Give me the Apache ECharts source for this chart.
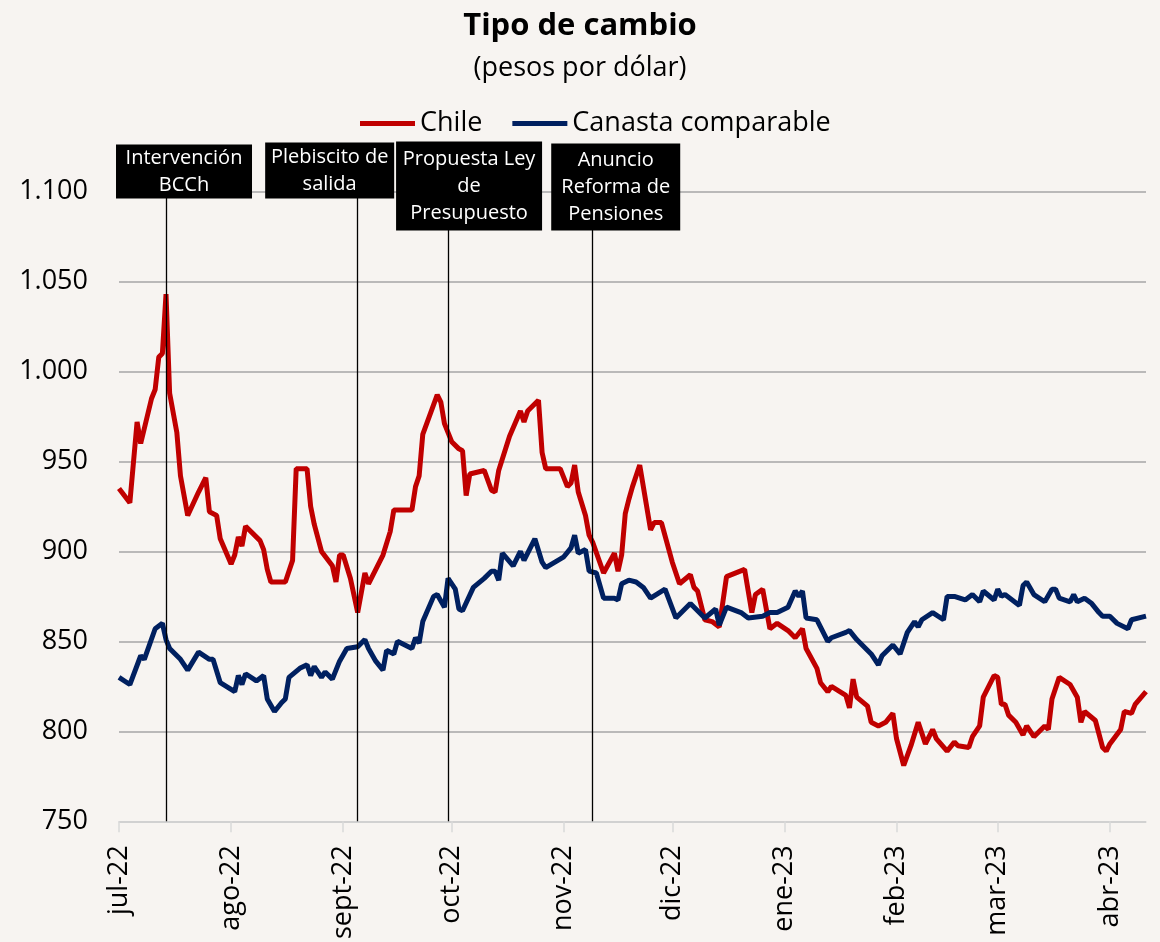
<!DOCTYPE html>
<html>
<head>
<meta charset="utf-8">
<script src="https://cdn.jsdelivr.net/npm/echarts@6/dist/echarts.min.js"></script>
<style>
  html, body { margin: 0; padding: 0; background: #f7f4f1; }
  #chart { width: 1160px; height: 942px; }
</style>
</head>
<body>
<div id="chart"></div>
<script>
// tipo de cambio, pesos por dolar
let axisStart = "2022-07-01";
let axisEnd = "2023-04-11";

let tickDates = ["2022-07-01", "2022-08-01", "2022-09-01", "2022-10-01", "2022-11-01",
  "2022-12-01", "2023-01-01", "2023-02-01", "2023-03-01", "2023-04-01"];
let monthLabels = ["jul-22", "ago-22", "sept-22", "oct-22", "nov-22",
  "dic-22", "ene-23", "feb-23", "mar-23", "abr-23"];

let chileDates = [
  "2022-07-01", "2022-07-04", "2022-07-06", "2022-07-07", "2022-07-10", "2022-07-11", "2022-07-12",
  "2022-07-13", "2022-07-14", "2022-07-15", "2022-07-17", "2022-07-18", "2022-07-20", "2022-07-23",
  "2022-07-25", "2022-07-26", "2022-07-28", "2022-07-29", "2022-08-01", "2022-08-02", "2022-08-03",
  "2022-08-04", "2022-08-05", "2022-08-09", "2022-08-10", "2022-08-11", "2022-08-12", "2022-08-16",
  "2022-08-18", "2022-08-19", "2022-08-22", "2022-08-23", "2022-08-24", "2022-08-26", "2022-08-29",
  "2022-08-30", "2022-08-31", "2022-09-01", "2022-09-03", "2022-09-05", "2022-09-07", "2022-09-08",
  "2022-09-12", "2022-09-14", "2022-09-15", "2022-09-20", "2022-09-21", "2022-09-22", "2022-09-23",
  "2022-09-27", "2022-09-28", "2022-09-29", "2022-10-01", "2022-10-03", "2022-10-04", "2022-10-05",
  "2022-10-06", "2022-10-10", "2022-10-12", "2022-10-13", "2022-10-14", "2022-10-17", "2022-10-20",
  "2022-10-21", "2022-10-22", "2022-10-25", "2022-10-26", "2022-10-27", "2022-10-31", "2022-11-02",
  "2022-11-03", "2022-11-04", "2022-11-05", "2022-11-07", "2022-11-08", "2022-11-09", "2022-11-12",
  "2022-11-15", "2022-11-16", "2022-11-17", "2022-11-18", "2022-11-19", "2022-11-20", "2022-11-22",
  "2022-11-25", "2022-11-26", "2022-11-28", "2022-12-01", "2022-12-03", "2022-12-06", "2022-12-07",
  "2022-12-08", "2022-12-10", "2022-12-12", "2022-12-14", "2022-12-16", "2022-12-21", "2022-12-23",
  "2022-12-24", "2022-12-26", "2022-12-28", "2022-12-30", "2023-01-02", "2023-01-04", "2023-01-06",
  "2023-01-07", "2023-01-10", "2023-01-11", "2023-01-13", "2023-01-14", "2023-01-18", "2023-01-19",
  "2023-01-20", "2023-01-21", "2023-01-24", "2023-01-25", "2023-01-27", "2023-01-29", "2023-01-31",
  "2023-02-01", "2023-02-03", "2023-02-05", "2023-02-07", "2023-02-09", "2023-02-11", "2023-02-12",
  "2023-02-15", "2023-02-17", "2023-02-18", "2023-02-21", "2023-02-22", "2023-02-24", "2023-02-25",
  "2023-02-28", "2023-03-01", "2023-03-02", "2023-03-03", "2023-03-04", "2023-03-06", "2023-03-08",
  "2023-03-09", "2023-03-11", "2023-03-14", "2023-03-15", "2023-03-16", "2023-03-18", "2023-03-21",
  "2023-03-23", "2023-03-24", "2023-03-25", "2023-03-28", "2023-03-30", "2023-03-31", "2023-04-01",
  "2023-04-04", "2023-04-05", "2023-04-07", "2023-04-08", "2023-04-11"
];
let chileValues = [
  935, 927, 972, 960, 985, 990, 1008,
  1010, 1043, 988, 966, 942, 920, 933,
  941, 922, 920, 907, 893, 898, 908,
  903, 914, 906, 901, 890, 883, 883,
  895, 946, 946, 925, 915, 900, 892,
  883, 898, 898, 885, 866, 888, 882,
  898, 911, 923, 923, 936, 942, 965,
  987, 983, 971, 961, 957, 956, 931,
  943, 945, 934, 933, 945, 964, 978,
  972, 978, 984, 955, 946, 946, 936,
  938, 948, 933, 920, 909, 905, 888,
  899, 889, 898, 921, 929, 936, 948,
  912, 916, 916, 894, 882, 887, 880,
  878, 862, 861, 858, 886, 890, 866,
  876, 879, 857, 860, 856, 852, 857,
  846, 835, 827, 822, 825, 820, 813,
  829, 819, 814, 805, 803, 805, 810,
  796, 781, 792, 805, 793, 801, 796,
  789, 794, 792, 791, 797, 803, 819,
  831, 830, 815, 815, 809, 805, 798,
  803, 797, 803, 801, 818, 830, 826,
  819, 805, 811, 806, 791, 789, 793,
  801, 811, 810, 815, 822
];

let canastaDates = [
  "2022-07-01", "2022-07-04", "2022-07-07", "2022-07-08", "2022-07-11", "2022-07-13", "2022-07-14",
  "2022-07-15", "2022-07-18", "2022-07-20", "2022-07-23", "2022-07-26", "2022-07-27", "2022-07-29",
  "2022-08-02", "2022-08-03", "2022-08-04", "2022-08-05", "2022-08-08", "2022-08-10", "2022-08-11",
  "2022-08-13", "2022-08-15", "2022-08-16", "2022-08-17", "2022-08-20", "2022-08-22", "2022-08-23",
  "2022-08-24", "2022-08-26", "2022-08-27", "2022-08-29", "2022-08-31", "2022-09-02", "2022-09-05",
  "2022-09-07", "2022-09-08", "2022-09-10", "2022-09-12", "2022-09-13", "2022-09-15", "2022-09-16",
  "2022-09-20", "2022-09-21", "2022-09-22", "2022-09-23", "2022-09-26", "2022-09-27", "2022-09-29",
  "2022-09-30", "2022-10-02", "2022-10-03", "2022-10-04", "2022-10-07", "2022-10-10", "2022-10-12",
  "2022-10-13", "2022-10-14", "2022-10-15", "2022-10-18", "2022-10-20", "2022-10-21", "2022-10-24",
  "2022-10-26", "2022-10-27", "2022-11-01", "2022-11-03", "2022-11-04", "2022-11-05", "2022-11-07",
  "2022-11-08", "2022-11-10", "2022-11-12", "2022-11-15", "2022-11-16", "2022-11-17", "2022-11-19",
  "2022-11-21", "2022-11-23", "2022-11-25", "2022-11-29", "2022-12-02", "2022-12-06", "2022-12-08",
  "2022-12-10", "2022-12-13", "2022-12-14", "2022-12-16", "2022-12-20", "2022-12-22", "2022-12-26",
  "2022-12-28", "2022-12-30", "2023-01-02", "2023-01-04", "2023-01-05", "2023-01-06", "2023-01-07",
  "2023-01-10", "2023-01-13", "2023-01-14", "2023-01-18", "2023-01-19", "2023-01-21", "2023-01-25",
  "2023-01-27", "2023-01-28", "2023-01-31", "2023-02-02", "2023-02-04", "2023-02-06", "2023-02-07",
  "2023-02-08", "2023-02-11", "2023-02-14", "2023-02-15", "2023-02-17", "2023-02-20", "2023-02-22",
  "2023-02-24", "2023-02-25", "2023-02-28", "2023-03-01", "2023-03-02", "2023-03-03", "2023-03-07",
  "2023-03-08", "2023-03-09", "2023-03-11", "2023-03-14", "2023-03-16", "2023-03-17", "2023-03-18",
  "2023-03-21", "2023-03-22", "2023-03-23", "2023-03-25", "2023-03-27", "2023-03-29", "2023-03-30",
  "2023-04-01", "2023-04-03", "2023-04-06", "2023-04-07", "2023-04-11"
];
let canastaValues = [
  830, 826, 842, 840, 857, 860, 851,
  846, 840, 834, 844, 840, 840, 827,
  822, 831, 826, 832, 828, 831, 818,
  811, 816, 818, 830, 835, 837, 831,
  836, 830, 833, 829, 839, 846, 847,
  851, 846, 839, 834, 845, 843, 850,
  846, 852, 849, 861, 875, 876, 869,
  885, 879, 868, 867, 880, 885, 889,
  889, 884, 899, 892, 900, 895, 907,
  894, 891, 897, 902, 909, 899, 901,
  889, 888, 874, 874, 873, 882, 884,
  883, 880, 874, 879, 863, 871, 867,
  863, 868, 859, 869, 866, 863, 864,
  866, 866, 869, 878, 875, 878, 863,
  862, 850, 852, 855, 856, 851, 843,
  837, 842, 848, 843, 855, 861, 858,
  862, 866, 862, 875, 875, 873, 876,
  872, 878, 873, 879, 875, 876, 870,
  881, 883, 876, 872, 879, 879, 874,
  872, 876, 872, 874, 871, 866, 864,
  864, 860, 857, 862, 864
];

let eventDates = ["2022-07-14", "2022-09-05", "2022-09-30", "2022-11-09"];
let eventLabels = ["Intervención\nBCCh", "Plebiscito de\nsalida", "Propuesta Ley\nde\nPresupuesto", "Anuncio\nReforma de\nPensiones"];

function toTime(s) {
  let p = s.split("-");
  return new Date(+p[0], +p[1] - 1, +p[2]).getTime();
}

let font = "Open Sans";
let tickTimes = tickDates.map(toTime);

// event box layout
let boxStyle = [
  { width: 124, padding: [0, 6], offset: [18, 12] },
  { width: 117, padding: [1, 6], offset: [-28, 12] },
  { width: 134, padding: [4, 6], offset: [21, 44] },
  { width: 117, padding: [3, 6], offset: [23, 44] }
];

let dom = document.getElementById("chart");
let myChart = echarts.init(dom);

let option = {
  backgroundColor: "#f7f4f1",
  animation: false,
  textStyle: { fontFamily: font, color: "#000" },
  title: {
    text: "Tipo de cambio",
    subtext: "(pesos por dólar)",
    left: "center",
    top: 2,
    itemGap: 6,
    textStyle: { fontFamily: font, fontSize: 31, fontWeight: "bold", color: "#000", lineHeight: 38 },
    subtextStyle: { fontFamily: font, fontSize: 27, color: "#000", lineHeight: 34 }
  },
  legend: {
    left: 355,
    top: 105,
    icon: "rect",
    itemWidth: 55,
    itemHeight: 5,
    itemGap: 30,
    textStyle: { fontFamily: font, fontSize: 27, color: "#000" },
    data: ["Chile", "Canasta comparable"]
  },
  grid: {
    left: 119,
    right: 14,
    top: 191.6,
    bottom: 119
  },
  xAxis: {
    type: "value",
    min: toTime(axisStart),
    max: toTime(axisEnd),
    axisLine: { lineStyle: { color: "#d9d9d9", width: 1.5 } },
    axisTick: { show: true, customValues: tickTimes, length: 11, lineStyle: { color: "#d9d9d9", width: 1.5 } },
    axisLabel: {
      customValues: tickTimes,
      rotate: 90,
      margin: 24,
      fontSize: 27,
      color: "#000",
      fontFamily: font,
      formatter: function(v) {
        let i = tickTimes.indexOf(v);
        return i >= 0 ? monthLabels[i] : "";
      }
    },
    splitLine: { show: false }
  },
  yAxis: {
    type: "value",
    min: 750,
    max: 1100,
    interval: 50,
    axisLine: { show: false },
    axisTick: { show: false },
    splitLine: { lineStyle: { color: "#a6a6a6", width: 1.5 } },
    axisLabel: {
      fontSize: 27,
      margin: 31,
      color: "#000",
      fontFamily: font,
      formatter: function(v) {
        if (v >= 1000) {
          return Math.floor(v / 1000) + "." + String(v % 1000).padStart(3, "0");
        }
        return String(v);
      }
    }
  },
  series: [
    {
      name: "Chile",
      type: "line",
      showSymbol: false,
      symbol: "none",
      color: "#c00000",
      lineStyle: { width: 5, color: "#c00000" },
      data: chileDates.map((d, i) => [toTime(d), chileValues[i]]),
      markLine: {
        silent: true,
        symbol: "none",
        animation: false,
        lineStyle: { color: "#000", width: 1.3, type: "solid" },
        label: {
          show: true,
          position: "end",
          backgroundColor: "#000",
          color: "#fff",
          fontFamily: font,
          fontSize: 20,
          lineHeight: 27,
          align: "center"
        },
        data: eventDates.map((d, i) => ({
          xAxis: toTime(d),
          label: {
            formatter: eventLabels[i],
            width: boxStyle[i].width,
            padding: boxStyle[i].padding,
            offset: boxStyle[i].offset
          }
        }))
      }
    },
    {
      name: "Canasta comparable",
      type: "line",
      showSymbol: false,
      symbol: "none",
      color: "#002060",
      lineStyle: { width: 5, color: "#002060" },
      data: canastaDates.map((d, i) => [toTime(d), canastaValues[i]])
    }
  ]
};

myChart.setOption(option, true);
</script>
</body>
</html>
